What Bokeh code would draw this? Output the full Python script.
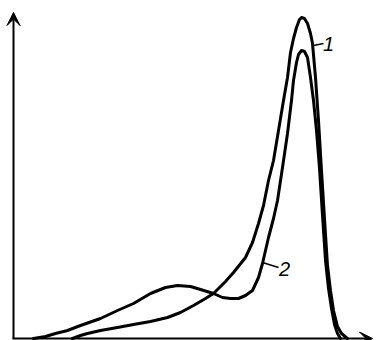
from bokeh.plotting import figure
from bokeh.models import Range1d, Arrow, VeeHead, ColumnDataSource
from bokeh.core.properties import value
from bokeh.embed import file_html
from bokeh.resources import INLINE

# Curve 1 (taller peak)
curve1_x = [60, 68, 75, 88, 105, 121, 138, 155, 168, 181, 193, 201, 213, 221, 233, 240, 246, 251, 256, 261,
            266, 271, 275, 278, 281, 284, 287, 289, 292, 295, 298, 300, 303, 306, 309, 312, 315, 318, 321, 325,
            329, 335]
curve1_y = [0, 3, 5, 8, 11, 14, 17, 21, 26, 33, 40, 45, 57, 66, 81, 96, 115, 133, 158, 178,
            208, 238, 261, 286, 300, 311, 319, 321, 320, 315, 305, 295, 261, 218, 168, 120, 73, 48, 28, 12,
            5, 0]

# Curve 2 (lower peak with a hump)
curve2_x = [21, 33, 43, 55, 68, 88, 105, 121, 138, 153, 165, 178, 188, 201, 210, 218, 226, 233, 240, 246,
            250, 253, 256, 261, 265, 270, 275, 279, 281, 284, 286, 289, 292, 295, 298, 301, 304, 307, 310, 313,
            316, 319, 322, 325, 328]
curve2_y = [0, 2, 5, 8, 13, 20, 28, 35, 45, 51, 53, 52, 49, 45, 41, 40, 40, 43, 48, 61,
            75, 88, 101, 120, 138, 171, 205, 238, 258, 276, 284, 288, 287, 281, 261, 238, 208, 170, 123, 78,
            50, 30, 14, 5, 0]

labels = ["1", "2"]
label_x = [316, 272]
label_y = [295, 70]
leader_x0 = [301, 250]
leader_y0 = [293, 76]
leader_x1 = [311, 266]
leader_y1 = [295, 71]

x_end = 360
y_end = 326

p = figure(width=389, height=340, output_backend="svg", toolbar_location=None,
           x_range=Range1d(-12, 377), y_range=Range1d(-2, 338))
p.min_border = 0
p.min_border_left = 0
p.min_border_right = 0
p.min_border_top = 0
p.min_border_bottom = 0
p.outline_line_color = None
p.xaxis.visible = False
p.yaxis.visible = False
p.grid.visible = False
p.background_fill_color = "white"
p.border_fill_color = "white"

# axes with arrow heads
p.add_layout(Arrow(end=VeeHead(size=13, fill_color="black", line_color="black", line_width=1),
                   x_start=1, y_start=0, x_end=1, y_end=y_end,
                   line_color="black", line_width=2))
p.add_layout(Arrow(end=VeeHead(size=13, fill_color="black", line_color="black", line_width=1),
                   x_start=0, y_start=0, x_end=x_end, y_end=0,
                   line_color="black", line_width=2))

p.line(curve1_x, curve1_y, line_color="black", line_width=3, line_join="round", line_cap="round")
p.line(curve2_x, curve2_y, line_color="black", line_width=3, line_join="round", line_cap="round")

p.segment(x0=leader_x0, y0=leader_y0, x1=leader_x1, y1=leader_y1, line_color="black", line_width=1.5)

src = ColumnDataSource(dict(x=label_x, y=label_y, t=labels))
p.text(x="x", y="y", text="t", source=src, text_align="center", text_baseline="middle",
       text_font=value("Liberation Sans"), text_font_style="italic", text_font_size="20px",
       text_color="black")

open("out.html", "w").write(file_html(p, INLINE))
